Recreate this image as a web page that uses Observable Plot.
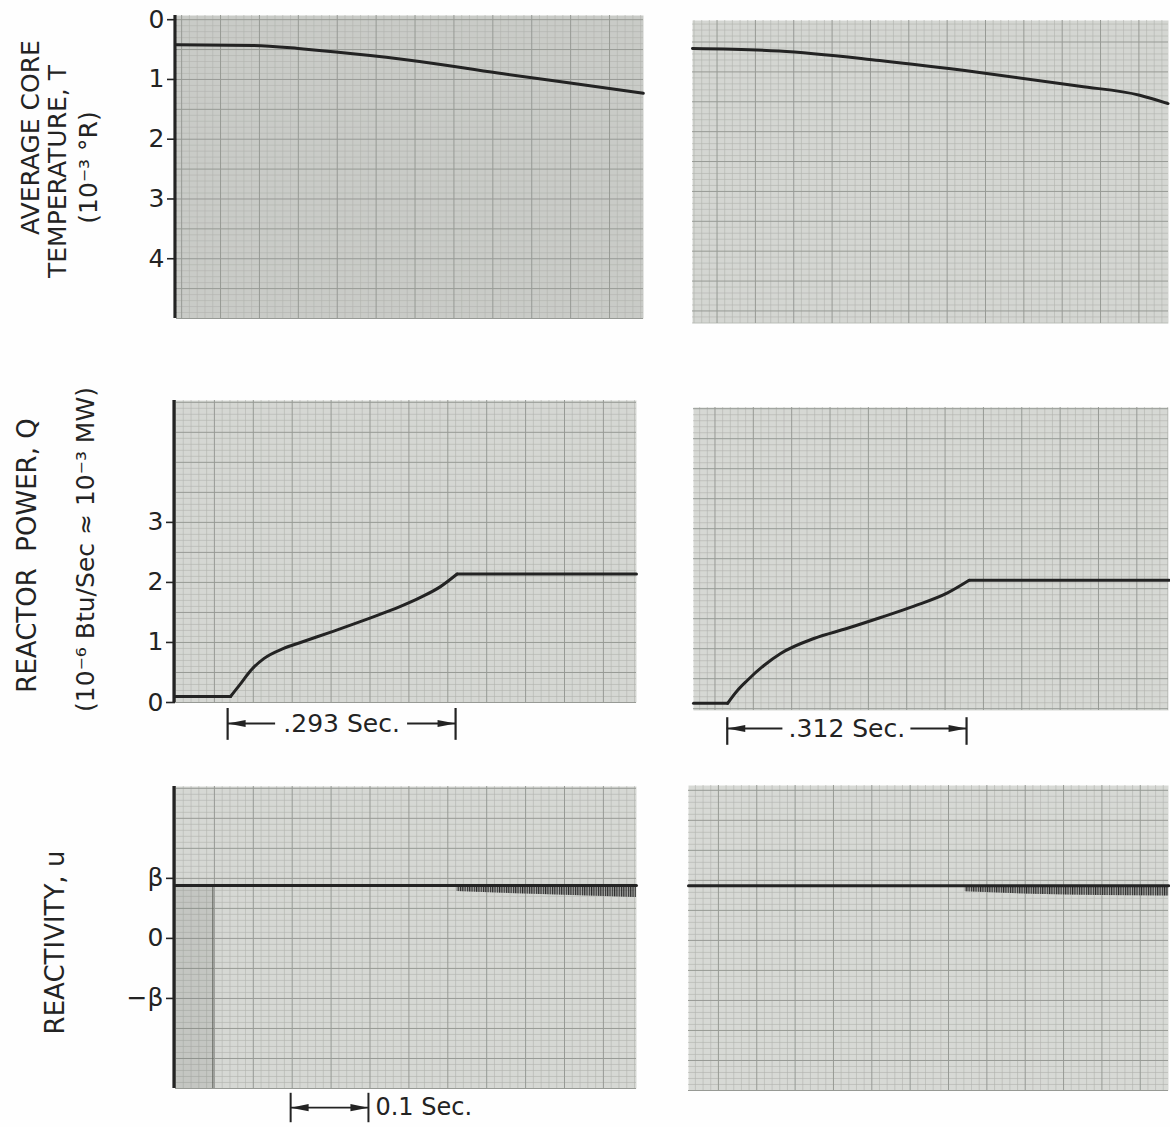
<!DOCTYPE html>
<html><head><meta charset="utf-8">
<script src="https://cdn.jsdelivr.net/npm/d3@7"></script>
<script src="https://cdn.jsdelivr.net/npm/@observablehq/plot@0.6"></script>
<style>
body{margin:0;background:#fefefe;}
#wrap{position:relative;width:1170px;height:1127px;overflow:hidden;font-family:"DejaVu Sans",sans-serif;}
#wrap svg{position:absolute;overflow:visible;}
</style></head><body><div id="wrap"></div>
<script>
// ---------------- data (read from the strip-chart records) ----------------
// time in seconds from left edge of each record, values in axis units
const tempLeftTime   = [0, 0.099, 0.163, 0.249, 0.335, 0.42, 0.506, 0.60];
const tempLeftValue  = [0.42, 0.43, 0.49, 0.60, 0.74, 0.905, 1.06, 1.23];
const tempRightTime  = [0, 0.113, 0.244, 0.374, 0.505, 0.583, 0.62];
const tempRightValue = [0.40, 0.44, 0.60, 0.80, 1.03, 1.18, 1.32];

const powerLeftTime   = [0, 0.0707, 0.0835, 0.0964, 0.1135, 0.139, 0.1607, 0.2035, 0.2464, 0.2892, 0.3149, 0.3406, 0.362, 0.5925];
const powerLeftValue  = [0.1, 0.1, 0.31, 0.53, 0.73, 0.9, 1.0, 1.19, 1.39, 1.6, 1.75, 1.93, 2.14, 2.14];
const powerRightTime  = [0, 0.0444, 0.057, 0.070, 0.0918, 0.1136, 0.157, 0.2007, 0.244, 0.2876, 0.3312, 0.3594, 0.62];
const powerRightValue = [0.12, 0.12, 0.33, 0.5, 0.75, 0.95, 1.2, 1.37, 1.55, 1.74, 1.96, 2.17, 2.17];

const reactLeftTime   = [0, 0.5925];
const reactLeftValue  = [0.88, 0.88];
const reactRightTime  = [0, 0.626];
const reactRightValue = [0.88, 0.88];
const reactStepTime   = 0.048;           // pen step seen at left of record
const noiseLeftTime   = [0.362, 0.45, 0.5925];
const noiseLeftLow    = [0.78, 0.74, 0.68];
const noiseRightTime  = [0.361, 0.45, 0.626];
const noiseRightLow   = [0.78, 0.74, 0.71];

const tempTicks  = [0, 1, 2, 3, 4];
const powerTicks = [0, 1, 2, 3];
const reactTicks = [1, 0, -1];
const reactTickLabels = ["β", "0", "−β"];

const titleTemp  = ["AVERAGE CORE", "TEMPERATURE, T", "(10⁻³ °R)"];
const titlePower = ["REACTOR  POWER, Q", "(10⁻⁶ Btu/Sec ≈ 10⁻³ MW)"];
const titleReact = ["REACTIVITY, u"];

const spanStarts  = [0.067, 0.044];
const spanLengths = [0.293, 0.312];
const spanLabels  = [".293 Sec.", ".312 Sec."];
const scaleStart  = 0.148;
const scaleLength = 0.1;
const scaleLabel  = "0.1 Sec.";

// ---------------- drawing ----------------
const wrap = document.getElementById("wrap");
const INK = "#232323";
const FONT = "DejaVu Sans, sans-serif";
const PXS_L = 778, PXS_R = 767;

function gridMarks(xMax, yDom, gx0, gy0) {
  const lo = Math.min(...yDom), hi = Math.max(...yDom);
  const xMin = [], xMaj = [], yMin = [], yMaj = [];
  for (let k = -300; k <= 300; k++) {
    const major = (((k % 5) + 5) % 5) === 0;
    const t = gx0 + k * 0.01;
    if (t >= -1e-9 && t <= xMax + 1e-9) (major ? xMaj : xMin).push(t);
    const v = gy0 + k * 0.1;
    if (v >= lo - 1e-9 && v <= hi + 1e-9) (major ? yMaj : yMin).push(v);
  }
  return [
    Plot.ruleX(xMin, {stroke: "#b1b4af", strokeWidth: 0.6}),
    Plot.ruleY(yMin, {stroke: "#b1b4af", strokeWidth: 0.6}),
    Plot.ruleX(xMaj, {stroke: "#979a95", strokeWidth: 1}),
    Plot.ruleY(yMaj, {stroke: "#979a95", strokeWidth: 1})
  ];
}

function panel(c) {
  const [fl, ft, fr, fb] = c.frame;
  const xMax = (fr - fl) / c.pxs;
  const mr = c.mr ?? 2, mb = c.mb ?? 4;
  const svg = Plot.plot({
    width: fr - c.left + mr,
    height: fb - c.top + mb,
    marginLeft: fl - c.left, marginTop: ft - c.top, marginRight: mr, marginBottom: mb,
    x: {domain: [0, xMax], axis: null},
    y: {domain: c.yDomain, reverse: !!c.reverse, axis: null},
    style: {background: "transparent", fontFamily: FONT, color: INK, overflow: "visible"},
    marks: [
      Plot.frame({fill: c.bg, stroke: "none"}),
      ...gridMarks(xMax, c.yDomain, c.gx0, c.gy0),
      ...(c.marks(xMax) || [])
    ]
  });
  svg.style.left = c.left + "px";
  svg.style.top = c.top + "px";
  wrap.appendChild(svg);
  return svg;
}

function leftAxis(ticks, fmt) {
  return [
    Plot.axisY({ticks, tickFormat: fmt, tickSize: 9, tickPadding: 3, fontSize: 25, label: null, color: INK, strokeWidth: 1.6}),
    Plot.ruleX([0], {stroke: INK, strokeWidth: 3.2, dx: -1.5})
  ];
}

function titleMarks(lines, centers, sizes, fl, ft) {
  return lines.map((s, i) => Plot.text([s], {
    text: d => d, frameAnchor: "top-left",
    dx: centers[i][0] - fl, dy: centers[i][1] - ft,
    rotate: -90, textAnchor: "middle", lineAnchor: "middle",
    fontSize: sizes[i], fill: INK
  }));
}

function curve(times, values, kind) {
  return Plot.line(d3.zip(times, values), {x: d => d[0], y: d => d[1], stroke: INK, strokeWidth: 3, curve: kind, strokeLinejoin: "round"});
}

function powerCurve(times, values) {
  const n = times.length;
  return [
    curve(times.slice(0, 2), values.slice(0, 2), "linear"),
    curve(times.slice(1, n - 1), values.slice(1, n - 1), "monotone-x"),
    curve(times.slice(n - 2), values.slice(n - 2), "linear")
  ];
}

function head(x, y, dir) {
  return Plot.vector([x], {x: d => d, y: y, rotate: dir, length: 18, shape: "spike", anchor: "end", r: 3.6, fill: INK, stroke: "none"});
}

function spanMarks(start, len, label, yText, yB1, yB2, pxs, textHalfPx) {
  const end = start + len, mid = start + len / 2, gap = textHalfPx / pxs;
  return [
    Plot.ruleX([start, end], {y1: yB1, y2: yB2, stroke: INK, strokeWidth: 2.2}),
    Plot.ruleY([yText], {x1: start, x2: mid - gap, stroke: INK, strokeWidth: 1.8}),
    Plot.ruleY([yText], {x1: mid + gap, x2: end, stroke: INK, strokeWidth: 1.8}),
    head(start, yText, 270),
    head(end, yText, 90),
    Plot.text([label], {x: mid, y: yText, text: d => d, fontSize: 25, fill: INK})
  ];
}

function noiseMarks(times, lows, u) {
  const d = d3.zip(times, lows);
  return [
    Plot.areaY(d, {x: r => r[0], y1: u, y2: r => r[1], fill: "#3a3a3a", fillOpacity: 0.3, curve: "monotone-x"}),
    Plot.areaY(d, {x: r => r[0], y1: u, y2: r => r[1], fill: "url(#penHatch)", curve: "monotone-x"})
  ];
}

// ---------- Row 1 : temperature ----------
const tDom = [-0.07, 5.0];
const p1 = panel({
  left: 0, top: 0, frame: [176, 15, 643, 318], pxs: PXS_L, yDomain: tDom, reverse: true,
  gx0: 0.0066, gy0: 0, bg: "#c9cbc7",
  marks: () => [
    ...leftAxis(tempTicks, d => String(d)),
    ...titleMarks(titleTemp, [[30, 137], [57, 171], [88, 167]], [25, 25, 25], 176, 15),
    curve(tempLeftTime, tempLeftValue, "monotone-x")
  ]
});
// hatch pattern for pen oscillation bands
const defs = d3.select(p1).insert("defs", ":first-child");
const pat = defs.append("pattern").attr("id", "penHatch").attr("patternUnits", "userSpaceOnUse")
  .attr("width", 2.3).attr("height", 6);
pat.append("rect").attr("width", 1.1).attr("height", 6).attr("fill", "#2a2a2a");

panel({
  left: 692, top: 0, frame: [692, 20, 1168, 323], pxs: PXS_R, yDomain: tDom, reverse: true,
  gx0: 0.032, gy0: 0.29, bg: "#d4d6d2",
  marks: () => [curve(tempRightTime, tempRightValue, "monotone-x")]
});

// ---------- Row 2 : power ----------
panel({
  left: 0, top: 380, frame: [175, 400, 636, 702], pxs: PXS_L, yDomain: [0, 5.03],
  gx0: 0, gy0: 0, bg: "#d5d7d3", mb: 45,
  marks: () => [
    ...leftAxis(powerTicks, d => String(d)),
    ...titleMarks(titlePower, [[27, 555], [85, 549]], [26, 25], 175, 400),
    ...powerCurve(powerLeftTime, powerLeftValue),
    ...spanMarks(spanStarts[0], spanLengths[0], spanLabels[0], -0.35, -0.1, -0.63, PXS_L, 66)
  ]
});
panel({
  left: 692, top: 380, frame: [693, 407, 1168, 710], pxs: PXS_R, yDomain: [0, 5.05],
  gx0: 0.028, gy0: 0.03, bg: "#d6d8d4", mb: 45,
  marks: () => [
    ...powerCurve(powerRightTime, powerRightValue),
    ...spanMarks(spanStarts[1], spanLengths[1], spanLabels[1], -0.3, -0.12, -0.58, PXS_R, 64)
  ]
});

// ---------- Row 3 : reactivity ----------
const u0 = reactLeftValue[0];
panel({
  left: 0, top: 770, frame: [175, 786, 636, 1088], pxs: PXS_L, yDomain: [-2.5, 2.53],
  gx0: 0, gy0: 0, bg: "#d6d8d4", mb: 39,
  marks: () => [
    Plot.rect([0], {x1: 0, x2: reactStepTime, y1: -2.5, y2: u0, fill: "#6c6f6a", fillOpacity: 0.17}),
    Plot.ruleX([reactStepTime], {y1: -2.5, y2: u0, stroke: "#62655f", strokeWidth: 1.2}),
    ...leftAxis(reactTicks, d => reactTickLabels[reactTicks.indexOf(d)]),
    ...titleMarks(titleReact, [[55, 942]], [26], 175, 786),
    ...noiseMarks(noiseLeftTime, noiseLeftLow, u0),
    curve(reactLeftTime, reactLeftValue, "linear"),
    Plot.ruleX([scaleStart, scaleStart + scaleLength], {y1: -2.58, y2: -3.07, stroke: INK, strokeWidth: 2}),
    Plot.ruleY([-2.82], {x1: scaleStart, x2: scaleStart + scaleLength, stroke: INK, strokeWidth: 1.8}),
    head(scaleStart, -2.82, 270),
    head(scaleStart + scaleLength, -2.82, 90),
    Plot.text([scaleLabel], {x: scaleStart + scaleLength, y: -2.82, dx: 7, textAnchor: "start", text: d => d, fontSize: 24, fill: INK})
  ]
});
panel({
  left: 688, top: 770, frame: [688, 785, 1168, 1090], pxs: PXS_R, yDomain: [-2.53, 2.55],
  gx0: 0.039, gy0: -0.03, bg: "#d7d9d5", mb: 30,
  marks: () => [
    ...noiseMarks(noiseRightTime, noiseRightLow, reactRightValue[0]),
    curve(reactRightTime, reactRightValue, "linear")
  ]
});
</script></body></html>
